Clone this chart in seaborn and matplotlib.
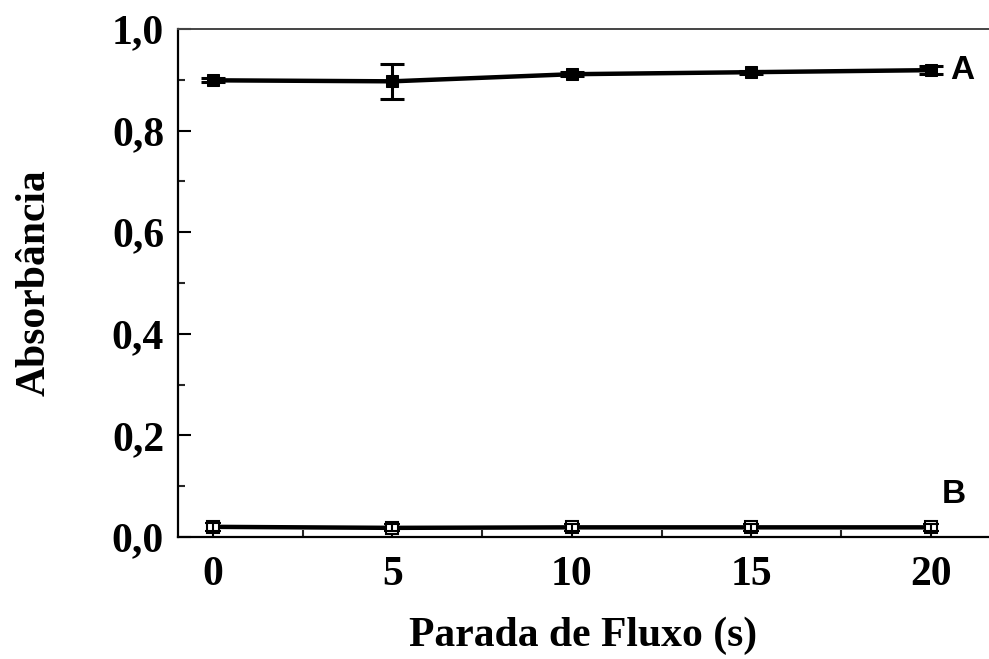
import matplotlib
matplotlib.use("Agg")
import matplotlib.pyplot as plt
from matplotlib.ticker import MultipleLocator, FuncFormatter
import seaborn as sns
import pandas as pd

# Flow-stop time (s) and absorbance for the two series
tempo = [0, 5, 10, 15, 20]
abs_a = [0.899, 0.897, 0.911, 0.915, 0.919]
err_a = [0.004, 0.034, 0.004, 0.003, 0.008]
abs_b = [0.020, 0.018, 0.019, 0.019, 0.019]
err_b = [0.008, 0.007, 0.007, 0.007, 0.007]
x_ticks = [0, 5, 10, 15, 20]
y_ticks = [0.0, 0.2, 0.4, 0.6, 0.8, 1.0]

sns.set_theme(style="ticks")
plt.rcParams["text.color"] = "black"
plt.rcParams["axes.labelcolor"] = "black"
serif = ["Liberation Serif", "DejaVu Serif"]
sans = ["Liberation Sans", "DejaVu Sans"]

df = pd.DataFrame({
    "tempo": tempo * 2,
    "abs": abs_a + abs_b,
    "serie": ["A"] * len(tempo) + ["B"] * len(tempo),
})

fig = plt.figure(figsize=(9.89, 6.59), dpi=100)
ax = fig.add_axes([178 / 989, 1 - 537 / 659, 1 - 178 / 989, (537 - 29) / 659])

sns.lineplot(data=df[df.serie == "A"], x="tempo", y="abs", ax=ax, color="black",
             lw=3.2, marker="s", markersize=8.5, markerfacecolor="black",
             markeredgecolor="black", legend=False)
sns.lineplot(data=df[df.serie == "B"], x="tempo", y="abs", ax=ax, color="black",
             lw=3.2, marker="s", markersize=8, markerfacecolor="white",
             markeredgecolor="black", markeredgewidth=1.5, legend=False)

ax.errorbar(tempo, abs_a, yerr=err_a, fmt="none", ecolor="black",
            elinewidth=2.2, capsize=8.5, capthick=2.2, zorder=4)
ax.errorbar(tempo, abs_b, yerr=err_b, fmt="none", ecolor="black",
            elinewidth=1.5, capsize=6, capthick=1.5, zorder=4)

ax.set_xlim(-0.97, 21.62)
ax.set_ylim(0, 1.0)
ax.set_xticks(x_ticks)
ax.set_yticks(y_ticks)
ax.xaxis.set_minor_locator(MultipleLocator(2.5))
ax.yaxis.set_minor_locator(MultipleLocator(0.1))
ax.yaxis.set_major_formatter(FuncFormatter(lambda v, p: f"{v:.1f}".replace(".", ",")))

ax.tick_params(axis="both", which="major", direction="in", length=9, width=1.5,
               labelsize=30, colors="black")
ax.tick_params(axis="both", which="minor", direction="in", length=5, width=1.5)
ax.tick_params(axis="x", which="major", pad=14)
ax.tick_params(axis="y", which="major", pad=10)
for lbl in ax.get_xticklabels() + ax.get_yticklabels():
    lbl.set_fontfamily(serif)
    lbl.set_fontweight("bold")

for side in ["left", "bottom"]:
    ax.spines[side].set_linewidth(1.6)
    ax.spines[side].set_color("black")
ax.spines["top"].set_linewidth(1.4)
ax.spines["top"].set_color("#444444")
ax.spines["right"].set_visible(False)

ax.set_xlabel("Parada de Fluxo (s)", fontsize=30, fontweight="bold",
              fontfamily=serif, labelpad=16, color="black")
ax.set_ylabel("Absorbância", fontsize=30, fontweight="bold",
              fontfamily=serif, labelpad=42, color="black")

ax.text(20.55, 0.919, "A", fontsize=24, fontweight="bold", fontfamily=sans,
        ha="left", va="center", color="black")
ax.text(20.3, 0.083, "B", fontsize=24, fontweight="bold", fontfamily=sans,
        ha="left", va="center", color="black")

fig.savefig("out.png", dpi=100)
